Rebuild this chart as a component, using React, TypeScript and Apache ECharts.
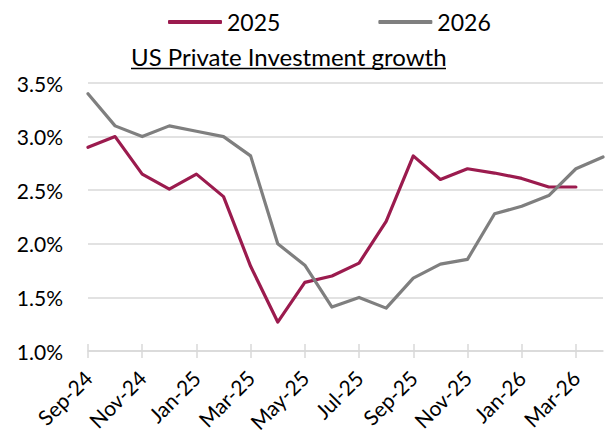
import React, { useEffect, useRef } from "react";
import * as echarts from "echarts";

const months = [
  "Sep-24", "Oct-24", "Nov-24", "Dec-24", "Jan-25", "Feb-25", "Mar-25", "Apr-25",
  "May-25", "Jun-25", "Jul-25", "Aug-25", "Sep-25", "Oct-25", "Nov-25", "Dec-25",
  "Jan-26", "Feb-26", "Mar-26", "Apr-26",
];

const series2025: (number | null)[] = [
  2.9, 3.0, 2.65, 2.51, 2.65, 2.44, 1.79, 1.27, 1.64, 1.7, 1.82, 2.21, 2.82, 2.6,
  2.7, 2.66, 2.61, 2.53, 2.53, null,
];

const series2026: number[] = [
  3.4, 3.1, 3.0, 3.1, 3.05, 3.0, 2.82, 2.0, 1.8, 1.41, 1.5, 1.4, 1.68, 1.81, 1.855,
  2.28, 2.35, 2.45, 2.7, 2.81,
];

const yTicks = { min: 1.0, max: 3.5, interval: 0.5 };

const titleText = "US Private Investment growth";

export default function App() {
  const ref = useRef<HTMLDivElement>(null);

  useEffect(() => {
    if (!ref.current) return;
    const chart = echarts.init(ref.current, null, { renderer: "svg" });
    const font = "Lato";
    chart.setOption({
      animation: false,
      backgroundColor: "#ffffff",
      textStyle: { fontFamily: font },
      title: {
        text: titleText,
        left: 131,
        top: 44,
        padding: 0,
        textStyle: { fontFamily: font, fontSize: 24, fontWeight: "normal", color: "#000" },
      },
      graphic: [
        {
          type: "line",
          shape: { x1: 131, y1: 68.5, x2: 446, y2: 68.5 },
          style: { stroke: "#000", lineWidth: 1.5 },
        },
      ],
      legend: {
        left: 168,
        top: 10.5,
        padding: 0,
        icon: "roundRect",
        itemWidth: 54,
        itemHeight: 4,
        itemGap: 98,
        textStyle: { fontFamily: font, fontSize: 23, color: "#000" },
        data: ["2025", "2026"],
      },
      grid: {
        left: 88,
        right: 3,
        top: 83,
        bottom: 84,
        containLabel: false,
        outerBoundsMode: "none",
      },
      xAxis: [
        {
          type: "category",
          data: months,
          boundaryGap: false,
          axisLine: { show: true, lineStyle: { color: "#d9d9d9", width: 1.5 } },
          axisTick: { show: true, interval: 1, length: 7, lineStyle: { color: "#d9d9d9", width: 1.5 } },
          axisLabel: {
            interval: 1,
            rotate: 45,
            fontFamily: font,
            fontSize: 21,
            color: "#000",
            margin: 23,
          },
          splitLine: { show: false },
        },
        {
          type: "category",
          data: months,
          boundaryGap: false,
          position: "bottom",
          axisLine: { show: false },
          axisTick: { show: true, inside: true, interval: 1, length: 7, lineStyle: { color: "#d9d9d9", width: 1.5 } },
          axisLabel: { show: false },
          splitLine: { show: false },
        },
      ],
      yAxis: {
        type: "value",
        min: yTicks.min,
        max: yTicks.max,
        interval: yTicks.interval,
        axisLine: { show: false },
        axisTick: { show: false },
        axisLabel: {
          formatter: (v: number) => v.toFixed(1) + "%",
          fontFamily: font,
          fontSize: 21,
          color: "#000",
          margin: 25,
        },
        splitLine: { show: true, lineStyle: { color: "#d9d9d9", width: 1.5 } },
      },
      series: [
        {
          name: "2025",
          type: "line",
          data: series2025,
          symbol: "none",
          color: "#9b1b4e",
          lineStyle: { width: 3.2, color: "#9b1b4e", cap: "round", join: "round" },
        },
        {
          name: "2026",
          type: "line",
          data: series2026,
          symbol: "none",
          color: "#7f7f7f",
          lineStyle: { width: 3.2, color: "#7f7f7f", cap: "round", join: "round" },
        },
      ],
    });
    return () => chart.dispose();
  }, []);

  return (
    <div
      ref={ref}
      style={{ position: "fixed", left: 0, top: 0, width: 606, height: 435 }}
    />
  );
}
